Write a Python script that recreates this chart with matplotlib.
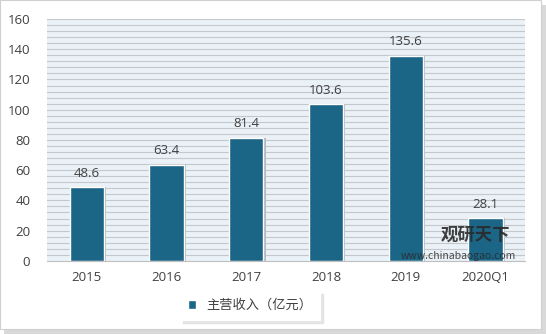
import matplotlib.pyplot as plt
from matplotlib.patches import Rectangle
import numpy as np

plt.rcParams['font.family'] = ['Noto Sans CJK SC', 'DejaVu Sans']

years = ['2015', '2016', '2017', '2018', '2019', '2020Q1']
income = [48.6, 63.4, 81.4, 103.6, 135.6, 28.1]
series_name = '主营收入（亿元）'

bar_color = '#1b6587'

fig = plt.figure(figsize=(5.46, 3.34), dpi=100)
# outer frame with shadow
fig.patches.append(Rectangle((0.008, 0.0), 0.992, 0.985, transform=fig.transFigure,
                             facecolor='#d9d9d9', edgecolor='none', zorder=-2))
fig.patches.append(Rectangle((0.0, 0.015), 0.99, 0.985, transform=fig.transFigure,
                             facecolor='white', edgecolor='#d0d0d0', lw=0.8, zorder=-1))

ax = fig.add_axes([0.086, 0.219, 0.876, 0.724])
ax.set_facecolor('#eaf1f7')
x = np.arange(len(years))
for yy in np.arange(4, 161, 4):
    ax.axhline(yy, color='#c4c8cc', lw=0.8, zorder=0)

# bar shadows
ax.bar(x + 0.03, income, width=0.43, color='#b4b8bc', zorder=1)
bars = ax.bar(x, income, width=0.43, color=bar_color, edgecolor='white', lw=1.0, zorder=2)
for xi, v in zip(x, income):
    ax.text(xi, v + 5, f'{v}', ha='center', va='bottom', fontsize=9.5, color='#404040',
            family='Open Sans', zorder=3)

ax.set_xlim(-0.5, len(years) - 0.5)
ax.set_ylim(0, 160)
ax.set_yticks(range(0, 161, 20))
ax.set_xticks(x)
ax.set_xticklabels(years)
ax.tick_params(length=0, labelsize=9.5, colors='#404040')
ax.tick_params(axis='x', pad=7)
ax.tick_params(axis='y', pad=12)
for lab in ax.get_xticklabels() + ax.get_yticklabels():
    lab.set_family('Open Sans')
for s in ['top', 'right', 'left']:
    ax.spines[s].set_visible(False)
ax.spines['bottom'].set_color('#bfbfbf')

# watermark
ax.text(4.88, 17, '观研天下', ha='center', va='center', fontsize=12.5, fontweight='bold',
        color='#2a2a2a', alpha=0.9, zorder=4)
ax.text(4.66, 3.2, 'www.chinabaogao.com', ha='center', va='center', fontsize=7.5,
        color='#2a2a2a', alpha=0.85, zorder=4)

# legend
leg = fig.legend([bars], [series_name], loc='center', bbox_to_anchor=(0.458, 0.085),
                 frameon=True, fontsize=9.5, handlelength=0.6, handleheight=0.6,
                 borderpad=0.6, fancybox=False, shadow={'color': '#e3e3e3', 'alpha': 1})
leg.get_frame().set_edgecolor('white')
for t in leg.get_texts():
    t.set_color('#404040')

fig.savefig('out.png', dpi=100)
